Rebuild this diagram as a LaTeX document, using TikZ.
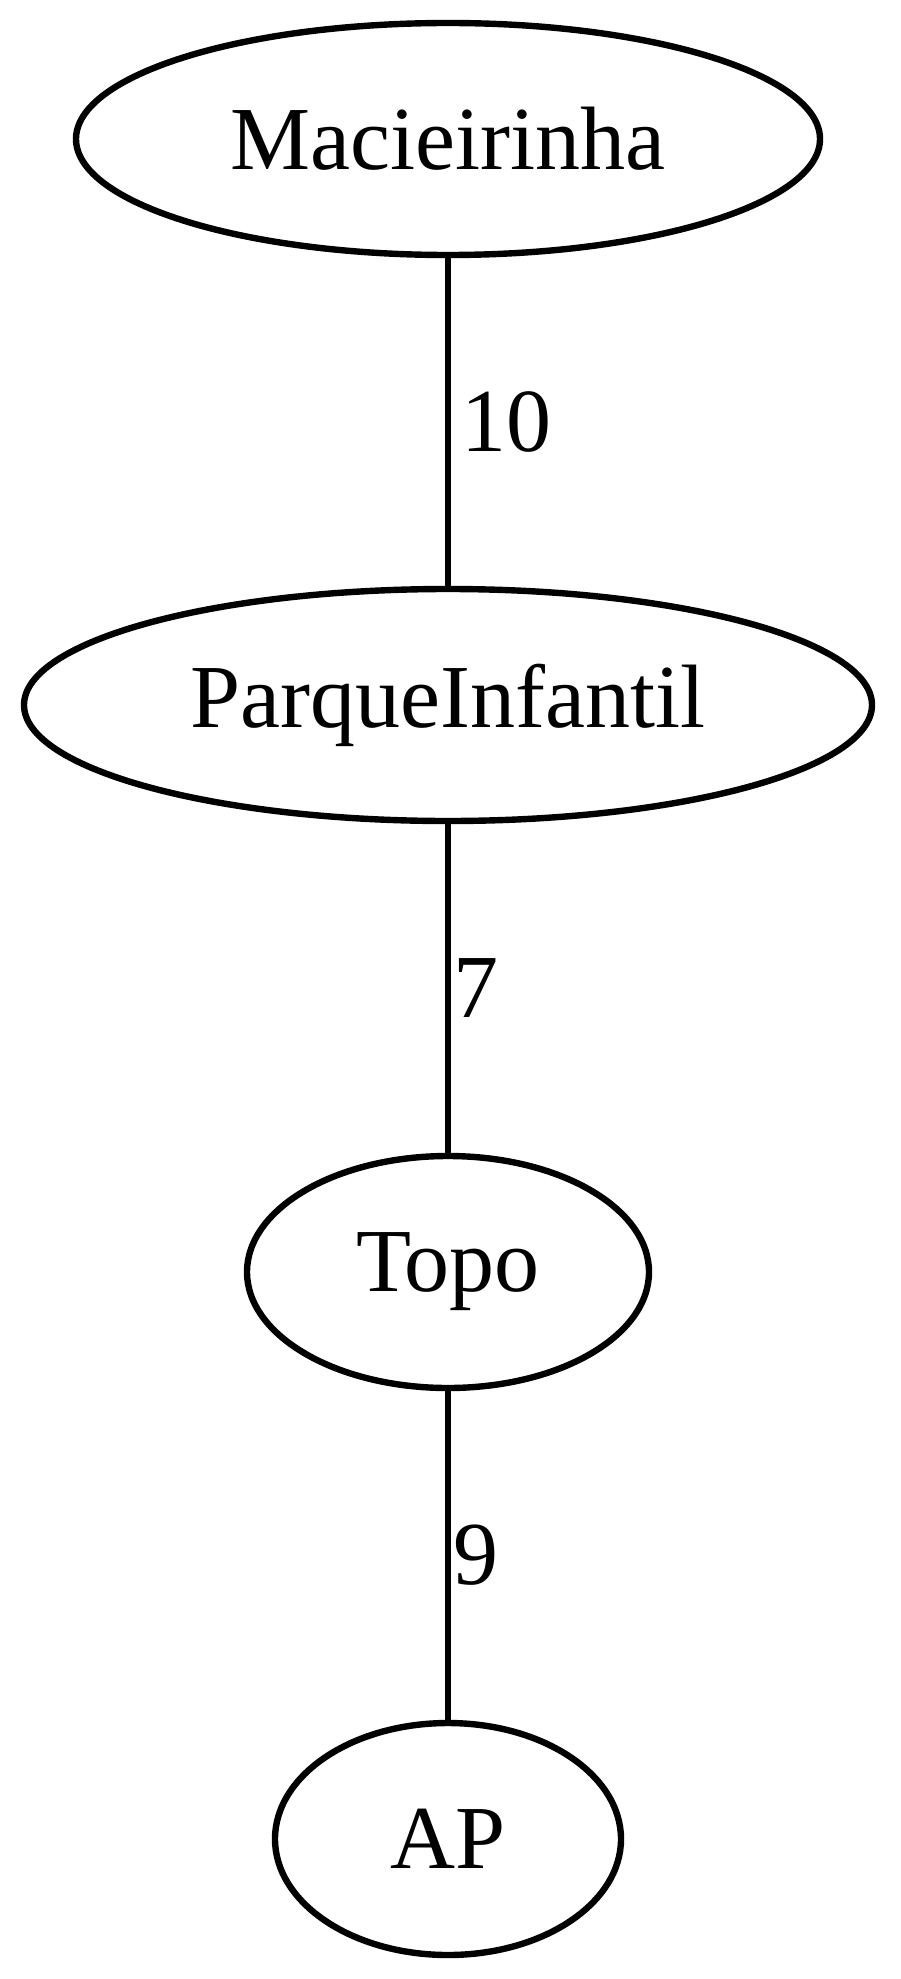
\documentclass[tikz,border=0pt]{standalone}
\usepackage{fontspec}
\setmainfont{Liberation Serif}
\usetikzlibrary{shapes.geometric}
\begin{document}
\begin{tikzpicture}[x=0.5pt, y=-0.5pt, line width=3.2pt, font=\fontsize{45}{54}\selectfont]
	\tikzset{place/.style={draw, ellipse, inner sep=0pt, minimum height=116pt}}
	\useasboundingbox (0,0) rectangle (900,1979);
	\node[place, minimum width=372pt] (mac) at (448,139) {Macieirinha};
	\node[place, minimum width=424pt] (parque) at (448,705) {ParqueInfantil};
	\node[place, minimum width=201pt] (topo) at (448,1272) {Topo};
	\node[place, minimum width=173pt] (ap) at (448,1839) {AP};
	\draw (mac) -- node[right, inner sep=5pt] {10} (parque);
	\draw (parque) -- node[right, inner sep=1pt] {7} (topo);
	\draw (topo) -- node[right, inner sep=1pt] {9} (ap);
\end{tikzpicture}
\end{document}
